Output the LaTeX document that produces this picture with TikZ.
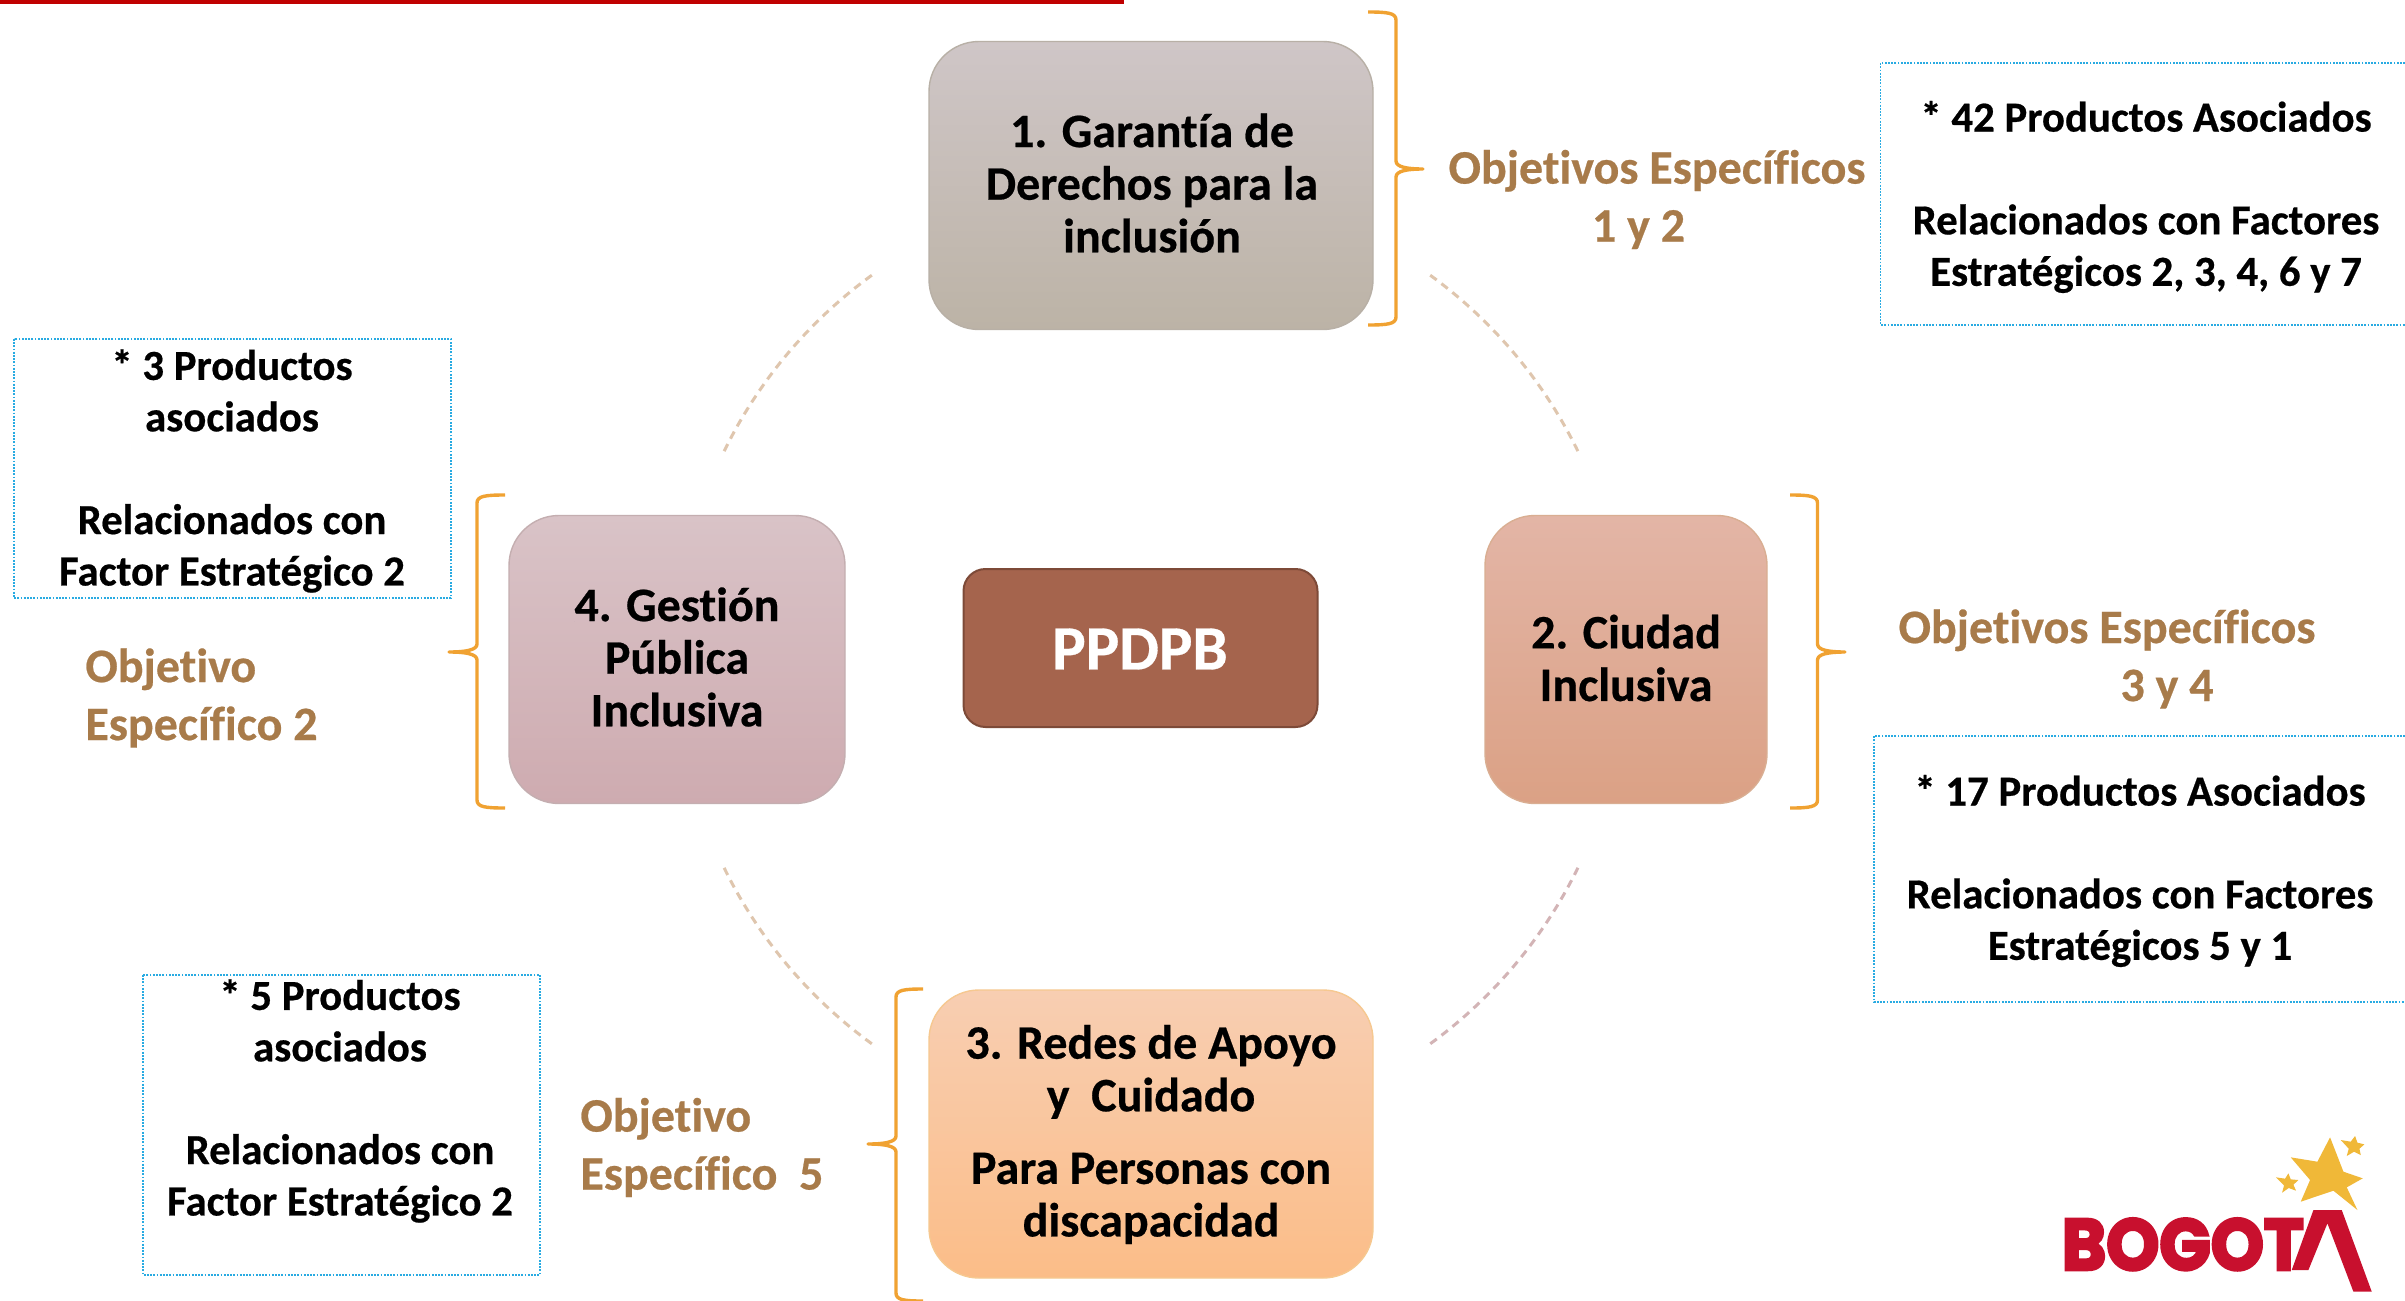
\documentclass[tikz,border=0pt]{standalone}
\usepackage{fontspec}
\setmainfont{Carlito}[Ligatures=NoCommon,BoldFeatures={FakeBold=0.5}]
\newfontfamily\logofont{Poppins}[BoldFeatures={FakeBold=4}]
\definecolor{brownT}{HTML}{A87B4A}
\definecolor{brace}{HTML}{F0A232}
\definecolor{dotb}{HTML}{29ABE2}
\definecolor{logored}{HTML}{C8102E}
\definecolor{logostar}{HTML}{F0B838}
\definecolor{barred}{HTML}{C00000}
\definecolor{arctan}{HTML}{DFC6AE}
\definecolor{arcrose}{HTML}{D3B4B6}
\definecolor{aT}{HTML}{CFC6C7}\definecolor{aB}{HTML}{BCB3A6}\definecolor{aE}{HTML}{B8B0A6}
\definecolor{bT}{HTML}{E3B5A6}\definecolor{bB}{HTML}{DBA185}\definecolor{bE}{HTML}{D9AE92}
\definecolor{cT}{HTML}{F8CEB2}\definecolor{cB}{HTML}{FBBD88}\definecolor{cE}{HTML}{F6C890}
\definecolor{dT}{HTML}{D9C3C7}\definecolor{dB}{HTML}{CEABB0}\definecolor{dE}{HTML}{C4AEB0}
\definecolor{pF}{HTML}{A5644D}\definecolor{pE}{HTML}{7D4A38}
\tikzset{
  x=0.5pt,y=-0.5pt,
  main/.style={rectangle,rounded corners=25pt,inner sep=0pt,align=center,line width=0.7pt,font=\fontsize{24}{26.3}\selectfont\bfseries,text=black},
  info/.style={rectangle,draw=none,inner sep=0pt,align=center,font=\fontsize{21.4}{25.7}\selectfont\bfseries,text=black},
  obj/.style={inner sep=0pt,text=brownT,font=\fontsize{24}{29}\selectfont\bfseries},
  dotbox/.style={draw=dotb,line width=0.7pt,dash pattern=on 0.9pt off 0.7pt},
  bracebar/.style={draw=brace,line width=1.7pt,line join=round},
  arcline/.style={line width=1.5pt,dash pattern=on 4pt off 3pt},
}
\newcommand{\bracepath}[6]{% end spine tip top mid bot
  \draw[bracebar] (#1,#4) .. controls ({#1+0.7*(#2-#1)},#4) and (#2,{#4+1}) .. (#2,{#4+8}) -- (#2,{#5-8})
    .. controls (#2,{#5-2}) and ({#2+0.4*(#3-#2)},#5) .. (#3,#5)
    .. controls ({#2+0.4*(#3-#2)},#5) and (#2,{#5+2}) .. (#2,{#5+8}) -- (#2,{#6-8})
    .. controls (#2,{#6-1}) and ({#1+0.7*(#2-#1)},#6) .. (#1,#6);}
\begin{document}
\begin{tikzpicture}
\useasboundingbox (0,0) rectangle (2405,1301);
\fill[white] (0,0) rectangle (2405,1301);
% top bar
\fill[barred] (0,0) rectangle (1124,4);
% dashed ring
\coordinate (ring) at (1151,659.5);
\draw[arcline,draw=arctan] (ring)+(-126:475) arc[start angle=-126,end angle=-154,radius=475];
\draw[arcline,draw=arctan] (ring)+(-54:475) arc[start angle=-54,end angle=-26,radius=475];
\draw[arcline,draw=arcrose] (ring)+(26:475) arc[start angle=26,end angle=54,radius=475];
\draw[arcline,draw=arctan] (ring)+(126:475) arc[start angle=126,end angle=154,radius=475];
% main boxes
\node[main,minimum width=222pt,minimum height=144pt,top color=aT,bottom color=aB,draw=aE] (b1) at (1151,185.5) {};
\node[main,minimum width=141pt,minimum height=144pt,top color=bT,bottom color=bB,draw=bE] (b2) at (1626,659.5) {};
\node[main,minimum width=222pt,minimum height=144pt,top color=cT,bottom color=cB,draw=cE] (b3) at (1151,1134) {};
\node[main,minimum width=168pt,minimum height=144pt,top color=dT,bottom color=dB,draw=dE] (b4) at (677,659.5) {};
\node[main,rounded corners=11pt,minimum width=177pt,minimum height=79pt,fill=pF,draw=pE,line width=1pt] (ppdpb) at (1140.5,648) {};
% labels
\node[main] (t1) at (1152,183) {1. Garantía de\\Derechos para la\\inclusión};
\node[main] (t2) at (1626,658) {2. Ciudad\\Inclusiva};
\node[main] (t3) at (1151,1134.5) {3. Redes de Apoyo\\y\ \ Cuidado\\[10pt]Para Personas con\\discapacidad};
\node[main] (t4) at (677,657) {4. Gestión\\Pública\\Inclusiva};
\node[main,text=white,font=\fontsize{31.5}{36}\selectfont\bfseries] (t5) at (1140,649) {PPDPB};
% braces
\bracepath{1368}{1396}{1423}{12}{169}{325}
\bracepath{1790}{1817.5}{1845}{495}{652}{808}
\bracepath{923}{896}{868}{989}{1144}{1301}
\bracepath{505}{477}{449}{495}{652}{808}
% dotted boxes
\draw[dotbox] (2405,63) -- (1880.5,63) -- (1880.5,325) -- (2405,325);
\draw[dotbox] (2405,736) -- (1874,736) -- (1874,1002) -- (2405,1002);
\draw[dotbox] (14,339) rectangle (451,598);
\draw[dotbox] (143,975) rectangle (540,1275);
% info text
\node[info] (i1) at (2146,197) {* 42 Productos Asociados\\[25.7pt]Relacionados con Factores\\Estratégicos 2, 3, 4, 6 y 7};
\node[info] (i2) at (2140,871) {* 17 Productos Asociados\\[25.7pt]Relacionados con Factores\\Estratégicos 5 y 1};
\node[info] (i3) at (232,471) {* 3 Productos\\asociados\\[25.7pt]Relacionados con\\Factor Estratégico 2};
\node[info] (i4) at (340,1101) {* 5 Productos\\asociados\\[25.7pt]Relacionados con\\Factor Estratégico 2};
% objective text
\node[obj,align=center] (o1) at (1657,199.5) {Objetivos Específicos\\1 y 2\hspace{18.5pt}\mbox{}};
\node[obj,align=center] (o2) at (2107,659) {Objetivos Específicos\\\hspace{60pt}3 y 4};
\node[obj,align=left,anchor=west] (o3) at (85,698) {Objetivo\\Específico 2};
\node[obj,align=left,anchor=west] (o4) at (580,1147.5) {Objetivo\\Específico\ \ 5};
% logo
\begin{scope}[shift={(2000,1100)},x=0.1667pt,y=-0.1667pt]
\fill[logostar] (990,112)--(1030,215)--(1088,235)--(1040,262)--(1072,330)--(1000,272)--(902,305)--(930,240)--(872,172)--(952,185)--cycle;
\fill[logostar] (1065,108)--(1072,128)--(1093,133)--(1078,146)--(1082,165)--(1062,155)--(1040,168)--(1046,146)--(1022,120)--(1052,125)--cycle;
\fill[logostar] (865,220)--(872,238)--(895,240)--(880,254)--(888,272)--(866,264)--(846,278)--(852,256)--(828,232)--(855,236)--cycle;
\fill[logored] (940,330)--(1025,330)--(1115,575)--(1060,575)--(982,370)--(925,510)--(875,510)--cycle;
\node[inner sep=0pt,text=logored,anchor=south west] (logo) at (184,512) {\resizebox{121pt}{25.7pt}{\logofont\bfseries BOGOT}};
\end{scope}
\end{tikzpicture}
\end{document}
